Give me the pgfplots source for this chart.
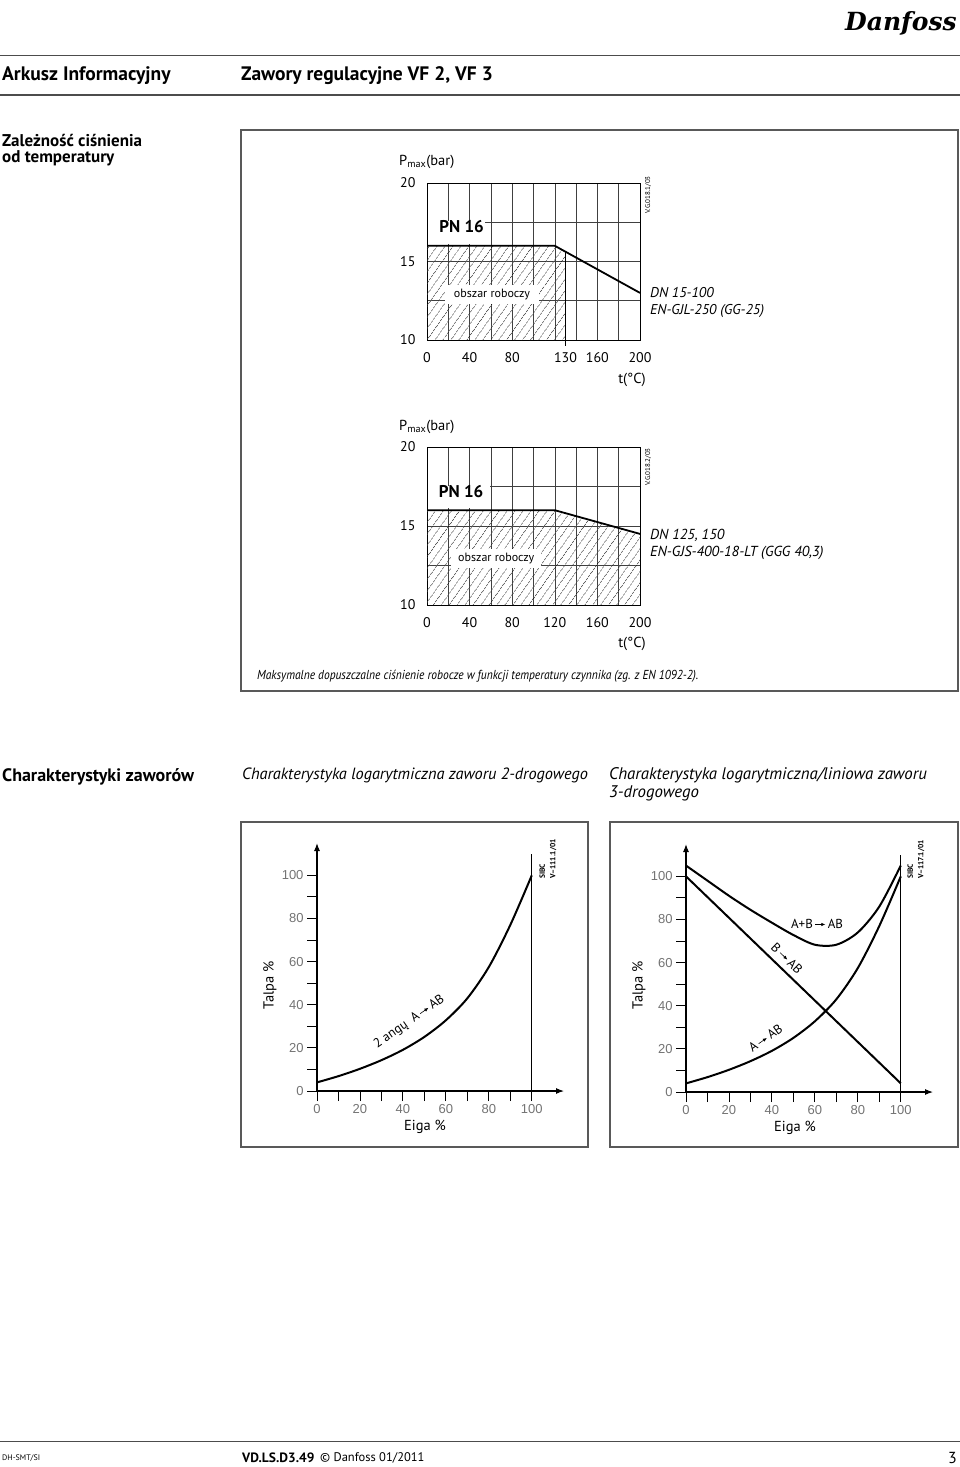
\documentclass[border=0pt]{standalone}
\usepackage{graphicx}
\usepackage{fontspec}
\setmainfont{PT Sans}
\newfontfamily\helv{Liberation Sans}
\newfontfamily\logofont{DejaVu Serif}
\usepackage{pgfplots}
\pgfplotsset{compat=1.18}
\usetikzlibrary{patterns.meta,arrows.meta}
\newcommand\fs[1]{\fontsize{#1bp}{#1bp}\selectfont}
\newcommand\arr{\,\tikz[baseline=-0.6ex]\draw[line width=0.6bp,-{Latex[length=4bp,width=3.5bp]}] (0,0)--(10bp,0);\,}

\pgfplotsset{
  pchart/.style={
    scale only axis, width=213bp,
    xmin=0, xmax=200, ymin=10, ymax=20,
    ytick={10,15,20},
    minor xtick={20,40,...,180}, minor ytick={12.5,15,17.5},
    xmajorgrids=false, xminorgrids=true, ymajorgrids=false, yminorgrids=true,
    minor grid style={black!75, line width=0.6bp},
    major tick length=0pt, minor tick length=0pt,
    axis line style={black, line width=0.8bp},
    tick label style={font=\fs{14}},
    /pgf/number format/assume math mode=true,
    xticklabel style={yshift=-9bp}, yticklabel style={xshift=-8bp},
    clip=false
  },
  vchart/.style={
    scale only axis, width=247bp, height=248bp,
    xmin=0, xmax=115, ymin=0, ymax=115,
    axis lines=left,
    axis line style={line width=1.1bp, -{Latex[length=8bp,width=6bp]}},
    xtick={0,20,...,100}, ytick={0,20,...,100},
    minor xtick={10,30,...,90}, minor ytick={10,30,...,90},
    tick align=outside, major tick length=10bp, minor tick length=10bp,
    tick style={black, line width=0.9bp},
    tick label style={font=\helv\fs{13}, text=black!55},
    /pgf/number format/assume math mode=true,
    clip=false
  }
}

\begin{document}
\begin{tikzpicture}
\useasboundingbox (0,0) rectangle (960bp,-1467bp);
\begin{scope}[x=1bp,y=-1bp]
% header
\node[anchor=east,inner sep=0] at (957,23) {\logofont\bfseries\itshape\fs{25}Danfoss};
\draw[line width=1.4bp, black!70] (0,55.5)--(960,55.5);
\draw[line width=1.4bp, black!70] (0,95)--(960,95);
\node[anchor=west,inner sep=0] at (2,76) {\fs{19.5}\bfseries Arkusz Informacyjny};
\node[anchor=west,inner sep=0] at (241,76) {\fs{19.5}\bfseries Zawory regulacyjne VF 2, VF 3};
\node[anchor=west,inner sep=0] at (2,140) {\fs{17}\bfseries Zależność ciśnienia};
\node[anchor=west,inner sep=0] at (2,158.5) {\fs{17}\bfseries od temperatury};
\draw[line width=1.1bp, black!65] (241,130) rectangle (958,691);
% chart 1 labels
\node[anchor=west,inner sep=0] at (399,162) {\fs{14.5}P\textsubscript{max}(bar)};
\node[inner sep=0] at (632,380) {\fs{14.5}t(°C)};
\node[anchor=west,inner sep=0] at (650,293) {\fs{14.2}\itshape DN 15-100};
\node[anchor=west,inner sep=0] at (650,311) {\fs{14.2}\itshape EN-GJL-250 (GG-25)};
\node[rotate=90,inner sep=0] at (648,195) {\fs{7}V.G.018.1/03};
% chart 2 labels
\node[anchor=west,inner sep=0] at (399,427) {\fs{14.5}P\textsubscript{max}(bar)};
\node[inner sep=0] at (632,644) {\fs{14.5}t(°C)};
\node[anchor=west,inner sep=0] at (650,535) {\fs{14.5}\itshape DN 125, 150};
\node[anchor=west,inner sep=0] at (650,553) {\fs{14.5}\itshape EN-GJS-400-18-LT (GGG 40,3)};
\node[rotate=90,inner sep=0] at (648,467) {\fs{7}V.G.018.2/03};
\node[anchor=west,inner sep=0] at (257,676) {\scalebox{0.885}[1]{\fs{13}\itshape Maksymalne dopuszczalne ciśnienie robocze w funkcji temperatury czynnika (zg. z EN 1092-2).}};
% section 2
\node[anchor=west,inner sep=0] at (2,777) {\fs{18}\bfseries Charakterystyki zaworów};
\node[anchor=west,inner sep=0] at (242,775) {\fs{16.3}\itshape Charakterystyka logarytmiczna zaworu 2-drogowego};
\node[anchor=west,inner sep=0] at (609,775) {\fs{16.8}\itshape Charakterystyka logarytmiczna/liniowa zaworu};
\node[anchor=west,inner sep=0] at (609,793) {\fs{16.8}\itshape 3-drogowego};
\draw[line width=1.1bp, black!65] (241,822) rectangle (588,1147);
\draw[line width=1.1bp, black!65] (610,822) rectangle (958,1147);
\node[rotate=90,inner sep=0] at (270,985) {\fs{14.5}Talpa \%};
\node[inner sep=0] at (425,1127) {\fs{14.5}Eiga \%};
\node[rotate=90,inner sep=0] at (639,985) {\fs{14.5}Talpa \%};
\node[inner sep=0] at (795,1128) {\fs{14.5}Eiga \%};
\node[rotate=90,anchor=west,inner sep=0,align=left] at (548,879) {\fs{7.5}\bfseries SIBC\\[-1.5bp]\fs{7.5}\bfseries V--111.1/01};
\node[rotate=90,anchor=west,inner sep=0,align=left] at (916,879) {\fs{7.5}\bfseries SIBC\\[-1.5bp]\fs{7.5}\bfseries V--117.1/01};
% footer
\draw[line width=1.4bp, black!70] (0,1441.5)--(960,1441.5);
\node[anchor=west,inner sep=0] at (2,1458) {\fs{8}DH-SMT/SI};
\node[anchor=west,inner sep=0] at (242,1458) {\fs{13.5}\bfseries VD.LS.D3.49};
\node[anchor=west,inner sep=0] at (320,1458) {\fs{12.5}© Danfoss 01/2011};
\node[anchor=east,inner sep=0] at (957,1458) {\fs{16}3};
\end{scope}

% ---------- chart 1
\begin{axis}[pchart, at={(427bp,-340bp)}, anchor=south west, height=157bp,
  xtick={0,40,80,130,160,200}]
\addplot[draw=none, pattern={Lines[angle=55,distance=6bp,line width=0.5bp]}, pattern color=black]
  coordinates {(0,10) (0,16) (120,16) (130,15.625) (130,10)} -- cycle;
\addplot[black, line width=0.7bp] coordinates {(130,15.625) (130,10)};
\draw[black, line width=0.7bp] (axis cs:130,10) -- ([yshift=-6bp]axis cs:130,10);
\fill[white] (axis cs:0.6,16.12) rectangle (axis cs:54,17.56);
\addplot[black, line width=1.8bp] coordinates {(0,16) (120,16) (200,13)};
\node[font=\fs{17}\bfseries] at (axis cs:32.5,17.2) {PN 16};
\node[fill=white, inner xsep=9bp, inner ysep=4bp, font=\fs{12}] at (axis cs:61,12.9) {obszar roboczy};
\end{axis}

% ---------- chart 2
\begin{axis}[pchart, at={(427bp,-605bp)}, anchor=south west, height=158bp,
  xtick={0,40,80,120,160,200}]
\addplot[draw=none, pattern={Lines[angle=55,distance=6bp,line width=0.5bp]}, pattern color=black]
  coordinates {(0,10) (0,16) (120,16) (200,14.5) (200,10)} -- cycle;
\fill[white] (axis cs:0.6,16.12) rectangle (axis cs:59.5,17.56);
\addplot[black, line width=1.8bp] coordinates {(0,16) (120,16) (200,14.5)};
\node[font=\fs{17}\bfseries] at (axis cs:32,17.2) {PN 16};
\node[fill=white, inner xsep=7bp, inner ysep=4bp, font=\fs{12}] at (axis cs:65,12.95) {obszar roboczy};
\end{axis}

% ---------- chart 3
\begin{axis}[vchart, at={(317bp,-1091bp)}, anchor=south west]
\addplot[black, line width=1.1bp] coordinates {(100,0) (100,110)};
\addplot[black, line width=2bp, smooth] coordinates {(0,4) (10,6.9) (20,10.3) (30,14.3) (40,19.1) (50,25.1) (60,32.8) (70,43) (80,57.5) (90,77) (100,100)};
\node[rotate=35, font=\fs{13}] at (axis cs:43,32) {2 angų \ A\arr AB};
\end{axis}

% ---------- chart 4
\begin{axis}[vchart, at={(686bp,-1092bp)}, anchor=south west]
\addplot[black, line width=1.1bp] coordinates {(100,0) (100,110)};
\addplot[black, line width=2bp] coordinates {(0,100) (100,4)};
\addplot[black, line width=2bp, smooth] coordinates {(0,4) (10,6.9) (20,10.3) (30,14.3) (40,19.1) (50,25.1) (60,32.8) (70,43) (80,57.5) (90,77) (100,100)};
\addplot[black, line width=2bp, smooth] coordinates {(0,105) (10,98) (20,91) (30,84.5) (40,78.5) (50,72.8) (60,68.3) (70,68.3) (80,74) (90,86) (100,105)};
\node[font=\fs{13}] at (axis cs:61,78) {A+B\arr AB};
\node[rotate=-44, font=\fs{13}] at (axis cs:47,62) {B\arr AB};
\node[rotate=35, font=\fs{13}] at (axis cs:37,25) {A\arr AB};
\end{axis}
\end{tikzpicture}
\end{document}
